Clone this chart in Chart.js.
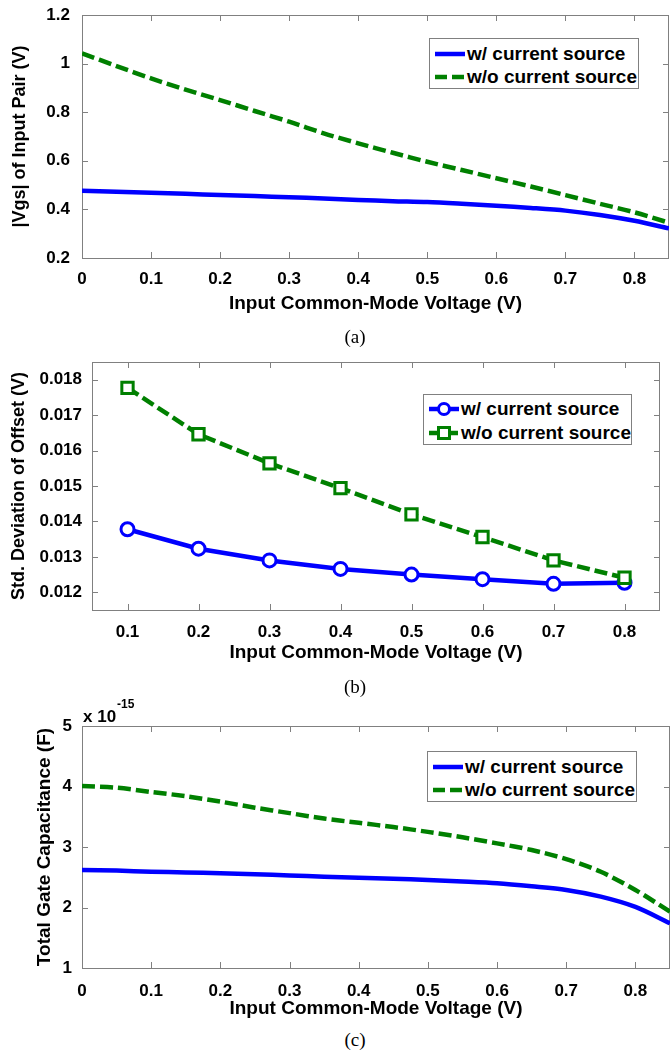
<!DOCTYPE html>
<html>
<head>
<meta charset="utf-8">
<script src="https://cdn.jsdelivr.net/npm/chart.js@4.4.0/dist/chart.umd.min.js"></script>
<style>
  body { margin: 0; background: #fff; width: 671px; height: 1051px; position: relative; overflow: hidden;
         font-family: 'Liberation Sans', Arial, sans-serif; }
  canvas { position: absolute; left: 0; }
  .caption { position: absolute; left: 0; width: 710px; text-align: center; transform: translateY(-50%);
             font-family: 'Liberation Serif', 'Times New Roman', serif; font-size: 19px; color: #000; }
  .legend { position: absolute; background: #fff; border: 1px solid #808080; box-sizing: border-box;
            font-weight: bold; font-size: 19px; color: #000; }
  .legend .row { position: absolute; left: 0; display: flex; align-items: center; white-space: nowrap;
                 transform: translateY(-50%); }
  .legend svg { margin-left: 5px; margin-right: 2px; }
</style>
</head>
<body>
<canvas id="chartA" width="671" height="320" style="top:0px"></canvas>
<canvas id="chartB" width="671" height="320" style="top:345px"></canvas>
<canvas id="chartC" width="671" height="330" style="top:690px"></canvas>
<div class="legend" id="legendA"></div>
<div class="legend" id="legendB"></div>
<div class="legend" id="legendC"></div>
<div class="caption" style="top:337px">(a)</div>
<div class="caption" style="top:687px">(b)</div>
<div class="caption" style="top:1040px">(c)</div>

<script>
// Data
const seriesLabels = ['w/ current source', 'w/o current source'];

// (a) |Vgs| of the input pair (V)
const vcmA = [0, 0.05, 0.1, 0.15, 0.2, 0.25, 0.3, 0.35, 0.4, 0.45, 0.5, 0.55, 0.6, 0.65, 0.7, 0.75, 0.8, 0.85];
const vgsWith = [0.477, 0.473, 0.469, 0.464, 0.459, 0.455, 0.450, 0.445, 0.439, 0.434, 0.430, 0.423, 0.415, 0.406, 0.395, 0.377, 0.353, 0.322];
const vgsWithout = [1.042, 0.990, 0.939, 0.893, 0.850, 0.805, 0.761, 0.713, 0.672, 0.633, 0.596, 0.562, 0.528, 0.494, 0.459, 0.423, 0.388, 0.345];

// (b) std. deviation of offset (V)
const vcmB = [0.1, 0.2, 0.3, 0.4, 0.5, 0.6, 0.7, 0.8];
const offsetWith = [0.01378, 0.01323, 0.01290, 0.01266, 0.01250, 0.01237, 0.01224, 0.01227];
const offsetWithout = [0.01777, 0.01646, 0.01564, 0.01494, 0.01420, 0.01356, 0.01290, 0.01241];

// (c) total gate capacitance, in units of 1e-15 F
const vcmC = [0, 0.05, 0.1, 0.15, 0.2, 0.25, 0.3, 0.35, 0.4, 0.45, 0.5, 0.55, 0.6, 0.65, 0.7, 0.75, 0.8, 0.85];
const capWith = [2.62, 2.61, 2.59, 2.58, 2.565, 2.55, 2.53, 2.51, 2.49, 2.475, 2.455, 2.43, 2.40, 2.35, 2.29, 2.18, 2.01, 1.74];
const capWithout = [4.01, 3.98, 3.91, 3.84, 3.75, 3.65, 3.56, 3.47, 3.40, 3.33, 3.25, 3.16, 3.06, 2.95, 2.80, 2.59, 2.29, 1.93];

// Tick values
const xTicksA = [0, 0.1, 0.2, 0.3, 0.4, 0.5, 0.6, 0.7, 0.8];
const yTicksA = [0.2, 0.4, 0.6, 0.8, 1, 1.2];
const xTicksB = [0.1, 0.2, 0.3, 0.4, 0.5, 0.6, 0.7, 0.8];
const yTicksB = [0.012, 0.013, 0.014, 0.015, 0.016, 0.017, 0.018];
const xTicksC = [0, 0.1, 0.2, 0.3, 0.4, 0.5, 0.6, 0.7, 0.8];
const yTicksC = [1, 2, 3, 4, 5];

const BLUE = 'rgb(0,0,255)';
const GREEN = 'rgb(0,128,0)';
const AXIS = '#808080';
const FONT = "'Liberation Sans', Arial, sans-serif";
const tickFont = { family: FONT, size: 17, weight: 'bold' };

const pairs = (xs, ys) => xs.map((x, i) => ({ x: x, y: ys[i] }));
const fmt = v => String(Math.round(v * 1000) / 1000);

// MATLAB-like box with inward ticks, plus the exponent note
const frameBox = {
    id: 'frameBox',
    beforeDatasetsDraw(chart, args, opts) {
        const { ctx, chartArea: a, scales: { x, y } } = chart;
        ctx.save();
        ctx.strokeStyle = AXIS;
        ctx.lineWidth = 1;
        ctx.beginPath();
        x.ticks.forEach(t => {
            const px = Math.round(x.getPixelForValue(t.value)) + 0.5;
            ctx.moveTo(px, a.bottom); ctx.lineTo(px, a.bottom - 6);
            ctx.moveTo(px, a.top); ctx.lineTo(px, a.top + 6);
        });
        y.ticks.forEach(t => {
            const py = Math.round(y.getPixelForValue(t.value)) + 0.5;
            ctx.moveTo(a.left, py); ctx.lineTo(a.left + 6, py);
            ctx.moveTo(a.right, py); ctx.lineTo(a.right - 6, py);
        });
        ctx.stroke();
        ctx.strokeRect(Math.round(a.left) + 0.5, Math.round(a.top) + 0.5,
            Math.round(a.right - a.left) - 1, Math.round(a.bottom - a.top));
        if (opts.exponent) {
            ctx.fillStyle = '#000';
            ctx.textBaseline = 'middle';
            ctx.font = 'bold 17px ' + FONT;
            ctx.fillText('x 10', a.left + 1, a.top - 9);
            const w = ctx.measureText('x 10').width;
            ctx.font = 'bold 12px ' + FONT;
            ctx.fillText(opts.exponent, a.left + 2 + w, a.top - 21);
        }
        ctx.restore();
    }
};

function renderChart(canvasId, o) {
    const canvas = document.getElementById(canvasId);
    const W = canvas.width, H = canvas.height, area = o.area;
    return new Chart(canvas, {
        type: 'line',
        data: { datasets: o.datasets },
        options: {
            responsive: false,
            animation: false,
            layout: { padding: { left: 0, top: area.top, right: W - area.right, bottom: 0 } },
            plugins: {
                legend: { display: false },
                tooltip: { enabled: false },
                frameBox: { exponent: o.exponent }
            },
            scales: {
                x: {
                    type: 'linear',
                    min: o.xMin, max: o.xMax,
                    afterFit(s) { s.height = H - area.bottom; },
                    afterBuildTicks(s) { s.ticks = o.xTicks.map(v => ({ value: v })); },
                    grid: { display: false },
                    border: { display: false },
                    ticks: { color: '#000', font: tickFont, padding: o.xPad, maxRotation: 0, autoSkip: false, callback: fmt },
                    title: { display: true, text: 'Input Common-Mode Voltage (V)', color: '#000',
                             font: { family: FONT, size: 19, weight: 'bold' },
                             padding: { top: 0, bottom: o.xTitlePad } }
                },
                y: {
                    type: 'linear',
                    min: o.yMin, max: o.yMax,
                    afterFit(s) { s.width = area.left; },
                    afterBuildTicks(s) { s.ticks = o.yTicks.map(v => ({ value: v })); },
                    grid: { display: false },
                    border: { display: false },
                    ticks: { color: '#000', font: tickFont, padding: o.yPad, autoSkip: false, callback: fmt },
                    title: { display: true, text: o.yTitle, color: '#000',
                             font: { family: FONT, size: o.yTitleSize, weight: 'bold' },
                             padding: { top: o.yTitlePad, bottom: 0 } }
                }
            }
        },
        plugins: [frameBox]
    });
}

function lineSet(label, xs, ys, color, dashed, extra) {
    return Object.assign({
        label: label,
        data: pairs(xs, ys),
        borderColor: color,
        borderWidth: 4.5,
        borderDash: dashed ? [13, 5] : [],
        borderCapStyle: 'butt',
        pointRadius: 0,
        tension: 0.3,
        fill: false,
        order: dashed ? 0 : 1
    }, extra || {});
}

renderChart('chartA', {
    area: { left: 82, top: 15, right: 669, bottom: 258 },
    xMin: 0, xMax: 0.85, yMin: 0.2, yMax: 1.2,
    xTicks: xTicksA, yTicks: yTicksA,
    xPad: 3, yPad: 4, xTitlePad: 5, yTitlePad: 9, yTitleSize: 18,
    yTitle: '|Vgs| of Input Pair (V)',
    datasets: [
        lineSet(seriesLabels[0], vcmA, vgsWith, BLUE, false),
        lineSet(seriesLabels[1], vcmA, vgsWithout, GREEN, true)
    ]
});

renderChart('chartB', {
    area: { left: 92, top: 17, right: 670, bottom: 265 },
    xMin: 0.05, xMax: 0.85, yMin: 0.0115, yMax: 0.0185,
    xTicks: xTicksB, yTicks: yTicksB,
    xPad: 4, yPad: 2, xTitlePad: 1, yTitlePad: 8, yTitleSize: 18,
    yTitle: 'Std. Deviation of Offset (V)',
    datasets: [
        lineSet(seriesLabels[0], vcmB, offsetWith, BLUE, false, {
            tension: 0, pointStyle: 'circle', pointRadius: 6.5, pointBorderWidth: 3,
            pointBackgroundColor: '#fff', pointBorderColor: BLUE
        }),
        lineSet(seriesLabels[1], vcmB, offsetWithout, GREEN, true, {
            tension: 0, pointStyle: 'rect', pointRadius: 8, pointBorderWidth: 3,
            pointBackgroundColor: '#fff', pointBorderColor: GREEN
        })
    ]
});

renderChart('chartC', {
    area: { left: 82, top: 36, right: 670, bottom: 278 },
    xMin: 0, xMax: 0.85, yMin: 1, yMax: 5,
    xTicks: xTicksC, yTicks: yTicksC,
    xPad: 5, yPad: 2, xTitlePad: 0, yTitlePad: 33, yTitleSize: 19,
    yTitle: 'Total Gate Capacitance (F)',
    exponent: '-15',
    datasets: [
        lineSet(seriesLabels[0], vcmC, capWith, BLUE, false),
        lineSet(seriesLabels[1], vcmC, capWithout, GREEN, true)
    ]
});

// Legends (HTML boxes placed inside each plot)
function sampleSvg(color, dashed, marker) {
    let s = `<svg width="30" height="18"><line x1="0" y1="9" x2="30" y2="9" stroke="${color}" stroke-width="4.5"` +
        (dashed ? ' stroke-dasharray="12 5"' : '') + '/>';
    if (marker === 'circle') s += `<circle cx="15" cy="9" r="5.5" fill="#fff" stroke="${color}" stroke-width="3"/>`;
    if (marker === 'rect') s += `<rect x="9.5" y="3.5" width="11" height="11" fill="#fff" stroke="${color}" stroke-width="3"/>`;
    return s + '</svg>';
}

function renderLegend(id, box, markers) {
    const el = document.getElementById(id);
    el.style.left = box.left + 'px';
    el.style.top = box.top + 'px';
    el.style.width = box.width + 'px';
    el.style.height = box.height + 'px';
    const colors = [BLUE, GREEN];
    seriesLabels.forEach((label, i) => {
        const row = document.createElement('div');
        row.className = 'row';
        row.style.top = box.rows[i] + 'px';
        row.innerHTML = sampleSvg(colors[i], i === 1, markers[i]) + '<span>' + label + '</span>';
        el.appendChild(row);
    });
}

renderLegend('legendA', { left: 429, top: 38, width: 210, height: 51, rows: [15, 38] }, [null, null]);
renderLegend('legendB', { left: 423, top: 394, width: 209, height: 51, rows: [14, 38] }, ['circle', 'rect']);
renderLegend('legendC', { left: 427, top: 751, width: 210, height: 51, rows: [15, 38] }, [null, null]);
</script>
</body>
</html>
